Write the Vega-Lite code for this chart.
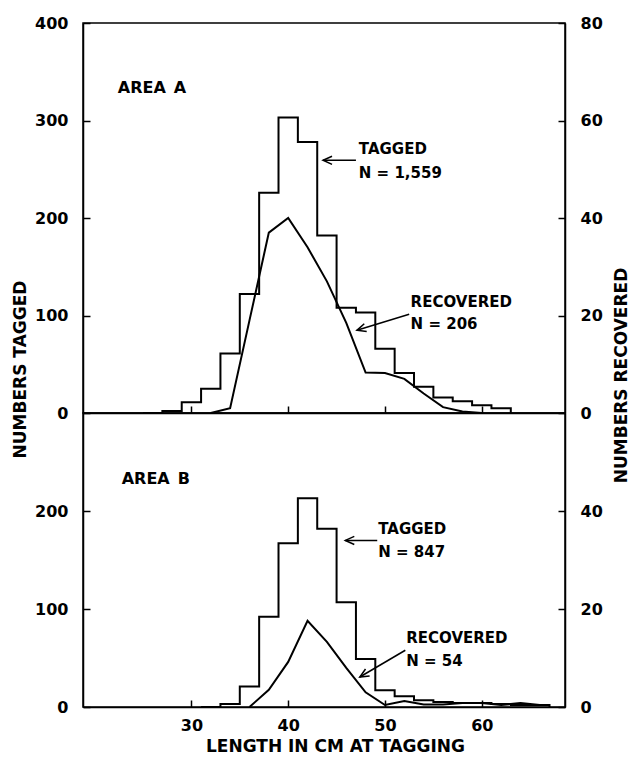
{
  "$schema": "https://vega.github.io/schema/vega-lite/v6.json",
  "padding": {"left": 10, "top": 14, "right": 0, "bottom": 0},
  "spacing": 0,
  "bounds": "flush",
  "datasets": {
    "tagA": [
      {"edge": 25, "count": 0}, {"edge": 27, "count": 2}, {"edge": 29, "count": 11}, {"edge": 31, "count": 25},
      {"edge": 33, "count": 61}, {"edge": 35, "count": 122}, {"edge": 37, "count": 226}, {"edge": 39, "count": 303},
      {"edge": 41, "count": 278}, {"edge": 43, "count": 182}, {"edge": 45, "count": 108}, {"edge": 47, "count": 103},
      {"edge": 49, "count": 66}, {"edge": 51, "count": 41}, {"edge": 53, "count": 27}, {"edge": 55, "count": 16},
      {"edge": 57, "count": 12}, {"edge": 59, "count": 8}, {"edge": 61, "count": 5}, {"edge": 63, "count": 0}
    ],
    "recA": [
      {"length": 32, "recovered": 0}, {"length": 34, "recovered": 1}, {"length": 36, "recovered": 19},
      {"length": 38, "recovered": 37}, {"length": 40, "recovered": 40}, {"length": 42, "recovered": 34},
      {"length": 44, "recovered": 27}, {"length": 46, "recovered": 18.5}, {"length": 48, "recovered": 8.3},
      {"length": 50, "recovered": 8.2}, {"length": 52, "recovered": 7}, {"length": 54, "recovered": 4},
      {"length": 56, "recovered": 1.2}, {"length": 58, "recovered": 0.3}, {"length": 60, "recovered": 0}
    ],
    "tagB": [
      {"edge": 31, "count": 0}, {"edge": 33, "count": 3}, {"edge": 35, "count": 21}, {"edge": 37, "count": 92},
      {"edge": 39, "count": 167}, {"edge": 41, "count": 213}, {"edge": 43, "count": 182}, {"edge": 45, "count": 107},
      {"edge": 47, "count": 49}, {"edge": 49, "count": 17}, {"edge": 51, "count": 11}, {"edge": 53, "count": 7},
      {"edge": 55, "count": 5}, {"edge": 57, "count": 4}, {"edge": 59, "count": 4}, {"edge": 61, "count": 3},
      {"edge": 63, "count": 2}, {"edge": 65, "count": 2}, {"edge": 67, "count": 0}
    ],
    "recB": [
      {"length": 36, "recovered": 0}, {"length": 38, "recovered": 3.5}, {"length": 40, "recovered": 9.2},
      {"length": 42, "recovered": 17.6}, {"length": 44, "recovered": 13.3}, {"length": 46, "recovered": 8},
      {"length": 48, "recovered": 3}, {"length": 50, "recovered": 0.4}, {"length": 52, "recovered": 1.2},
      {"length": 54, "recovered": 0.5}, {"length": 56, "recovered": 0.5}, {"length": 58, "recovered": 0.8},
      {"length": 60, "recovered": 0.8}, {"length": 62, "recovered": 0.4}, {"length": 64, "recovered": 0.8},
      {"length": 66, "recovered": 0.4}
    ],
    "notesA": [
      {"x": 22.4, "y": 333, "text": "AREA\u2002A", "role": "area"},
      {"x": 47.3, "y": 271, "text": "TAGGED", "role": "note"},
      {"x": 47.3, "y": 246, "text": "N = 1,559", "role": "note"},
      {"x": 52.65, "y": 114, "text": "RECOVERED", "role": "note"},
      {"x": 52.65, "y": 91.6, "text": "N = 206", "role": "note"}
    ],
    "notesB": [
      {"x": 22.8, "y": 233, "text": "AREA\u2002B", "role": "area"},
      {"x": 49.3, "y": 182, "text": "TAGGED", "role": "note"},
      {"x": 49.3, "y": 158.5, "text": "N = 847", "role": "note"},
      {"x": 52.2, "y": 70, "text": "RECOVERED", "role": "note"},
      {"x": 52.2, "y": 47, "text": "N = 54", "role": "note"}
    ],
    "arrowsA": [
      {"x": 47.0, "y": 259.2, "x2": 43.6, "y2": 259.2, "series": "tagged"},
      {"x": 52.5, "y": 101.2, "x2": 47.1, "y2": 84.8, "series": "recovered"}
    ],
    "arrowsB": [
      {"x": 49.2, "y": 170, "x2": 45.9, "y2": 170, "series": "tagged"},
      {"x": 52.1, "y": 57.9, "x2": 47.4, "y2": 30.6, "series": "recovered"}
    ]
  },
  "vconcat": [
    {
      "width": 482,
      "height": 390,
      "layer": [
        {
          "data": {"name": "tagA"},
          "mark": {"type": "line", "interpolate": "step-after", "color": "black", "strokeWidth": 2},
          "encoding": {
            "x": {"field": "edge", "type": "quantitative", "scale": {"domain": [18.8, 68.6], "nice": false, "zero": false},
                  "axis": {"values": [30, 40, 50, 60], "labels": false, "title": null}},
            "y": {"field": "count", "type": "quantitative", "scale": {"domain": [0, 400], "nice": false},
                  "axis": {"orient": "left", "values": [0, 100, 200, 300, 400], "title": "NUMBERS TAGGED",
                           "titleAngle": 270, "titleX": -58, "titleY": 346, "titleBaseline": "alphabetic", "titleAlign": "center"}}
          }
        },
        {
          "data": {"name": "recA"},
          "mark": {"type": "line", "color": "black", "strokeWidth": 2},
          "encoding": {
            "x": {"field": "length", "type": "quantitative"},
            "y": {"field": "recovered", "type": "quantitative", "scale": {"domain": [0, 80], "nice": false},
                  "axis": {"orient": "right", "values": [0, 20, 40, 60, 80], "title": "NUMBERS RECOVERED",
                           "titleAngle": 270, "titleX": 61, "titleY": 352, "titleBaseline": "alphabetic", "titleAlign": "center"}}
          }
        },
        {
          "data": {"name": "notesA"},
          "transform": [{"filter": "datum.role === 'area'"}],
          "mark": {"type": "text", "align": "left", "baseline": "middle", "fontSize": 16, "fontWeight": "bold", "font": "DejaVu Sans", "color": "black"},
          "encoding": {
            "x": {"field": "x", "type": "quantitative"},
            "y": {"field": "y", "type": "quantitative", "scale": {"domain": [0, 400], "nice": false}, "axis": null},
            "text": {"field": "text"}
          }
        },
        {
          "data": {"name": "notesA"},
          "transform": [{"filter": "datum.role === 'note'"}],
          "mark": {"type": "text", "align": "left", "baseline": "middle", "fontSize": 15, "fontWeight": "bold", "font": "DejaVu Sans", "color": "black"},
          "encoding": {
            "x": {"field": "x", "type": "quantitative"},
            "y": {"field": "y", "type": "quantitative", "scale": {"domain": [0, 400], "nice": false}, "axis": null},
            "text": {"field": "text"}
          }
        },
        {
          "data": {"name": "arrowsA"},
          "mark": {"type": "rule", "color": "black", "strokeWidth": 1.5},
          "encoding": {
            "x": {"field": "x", "type": "quantitative"},
            "x2": {"field": "x2"},
            "y": {"field": "y", "type": "quantitative", "scale": {"domain": [0, 400], "nice": false}, "axis": null},
            "y2": {"field": "y2"}
          }
        },
        {
          "data": {"name": "arrowsA"},
          "transform": [{"filter": "datum.series === 'tagged'"}],
          "mark": {"type": "point", "shape": "M2,-0.9L0,0L2,0.9", "size": 81, "filled": false, "stroke": "black", "strokeWidth": 1.5, "angle": 0, "opacity": 1},
          "encoding": {
            "x": {"field": "x2", "type": "quantitative"},
            "y": {"field": "y2", "type": "quantitative", "scale": {"domain": [0, 400], "nice": false}, "axis": null}
          }
        },
        {
          "data": {"name": "arrowsA"},
          "transform": [{"filter": "datum.series === 'recovered'"}],
          "mark": {"type": "point", "shape": "M2,-0.9L0,0L2,0.9", "size": 81, "filled": false, "stroke": "black", "strokeWidth": 1.5, "angle": -17.5, "opacity": 1},
          "encoding": {
            "x": {"field": "x2", "type": "quantitative"},
            "y": {"field": "y2", "type": "quantitative", "scale": {"domain": [0, 400], "nice": false}, "axis": null}
          }
        }
      ],
      "resolve": {"scale": {"y": "independent"}}
    },
    {
      "width": 482,
      "height": 294,
      "layer": [
        {
          "data": {"name": "tagB"},
          "mark": {"type": "line", "interpolate": "step-after", "color": "black", "strokeWidth": 2},
          "encoding": {
            "x": {"field": "edge", "type": "quantitative", "scale": {"domain": [18.8, 68.6], "nice": false, "zero": false},
                  "axis": {"values": [30, 40, 50, 60], "title": "LENGTH IN CM AT TAGGING", "titleX": 252, "titleY": 44.5, "titleBaseline": "alphabetic", "titleAlign": "center", "labelFlush": false, "labelPadding": 17}},
            "y": {"field": "count", "type": "quantitative", "scale": {"domain": [0, 300], "nice": false},
                  "axis": {"orient": "left", "values": [0, 100, 200], "title": null}}
          }
        },
        {
          "data": {"name": "recB"},
          "mark": {"type": "line", "color": "black", "strokeWidth": 2},
          "encoding": {
            "x": {"field": "length", "type": "quantitative"},
            "y": {"field": "recovered", "type": "quantitative", "scale": {"domain": [0, 60], "nice": false},
                  "axis": {"orient": "right", "values": [0, 20, 40], "title": null}}
          }
        },
        {
          "data": {"name": "notesB"},
          "transform": [{"filter": "datum.role === 'area'"}],
          "mark": {"type": "text", "align": "left", "baseline": "middle", "fontSize": 16, "fontWeight": "bold", "font": "DejaVu Sans", "color": "black"},
          "encoding": {
            "x": {"field": "x", "type": "quantitative"},
            "y": {"field": "y", "type": "quantitative", "scale": {"domain": [0, 300], "nice": false}, "axis": null},
            "text": {"field": "text"}
          }
        },
        {
          "data": {"name": "notesB"},
          "transform": [{"filter": "datum.role === 'note'"}],
          "mark": {"type": "text", "align": "left", "baseline": "middle", "fontSize": 15, "fontWeight": "bold", "font": "DejaVu Sans", "color": "black"},
          "encoding": {
            "x": {"field": "x", "type": "quantitative"},
            "y": {"field": "y", "type": "quantitative", "scale": {"domain": [0, 300], "nice": false}, "axis": null},
            "text": {"field": "text"}
          }
        },
        {
          "data": {"name": "arrowsB"},
          "mark": {"type": "rule", "color": "black", "strokeWidth": 1.5},
          "encoding": {
            "x": {"field": "x", "type": "quantitative"},
            "x2": {"field": "x2"},
            "y": {"field": "y", "type": "quantitative", "scale": {"domain": [0, 300], "nice": false}, "axis": null},
            "y2": {"field": "y2"}
          }
        },
        {
          "data": {"name": "arrowsB"},
          "transform": [{"filter": "datum.series === 'tagged'"}],
          "mark": {"type": "point", "shape": "M2,-0.9L0,0L2,0.9", "size": 81, "filled": false, "stroke": "black", "strokeWidth": 1.5, "angle": 0, "opacity": 1},
          "encoding": {
            "x": {"field": "x2", "type": "quantitative"},
            "y": {"field": "y2", "type": "quantitative", "scale": {"domain": [0, 300], "nice": false}, "axis": null}
          }
        },
        {
          "data": {"name": "arrowsB"},
          "transform": [{"filter": "datum.series === 'recovered'"}],
          "mark": {"type": "point", "shape": "M2,-0.9L0,0L2,0.9", "size": 81, "filled": false, "stroke": "black", "strokeWidth": 1.5, "angle": -30.5, "opacity": 1},
          "encoding": {
            "x": {"field": "x2", "type": "quantitative"},
            "y": {"field": "y2", "type": "quantitative", "scale": {"domain": [0, 300], "nice": false}, "axis": null}
          }
        }
      ],
      "resolve": {"scale": {"y": "independent"}}
    }
  ],
  "config": {
    "font": "DejaVu Sans",
    "background": "white",
    "view": {"stroke": "black", "strokeWidth": 1.5},
    "axis": {
      "grid": false,
      "domainColor": "black", "domainWidth": 1.5,
      "tickColor": "black", "tickWidth": 1.5, "tickSize": -7,
      "labelFont": "DejaVu Sans", "labelFontWeight": "bold", "labelFontSize": 16, "labelColor": "black",
      "labelPadding": 22, "labelOverlap": false,
      "titleFont": "DejaVu Sans", "titleFontWeight": "bold", "titleFontSize": 17, "titleColor": "black"
    }
  }
}
